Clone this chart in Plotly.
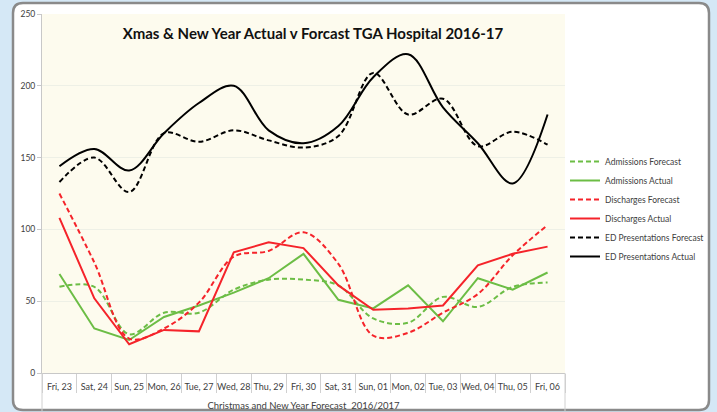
import plotly.graph_objects as go

categories = ["Fri, 23", "Sat, 24", "Sun, 25", "Mon, 26", "Tue, 27", "Wed, 28", "Thu, 29",
              "Fri, 30", "Sat, 31", "Sun, 01", "Mon, 02", "Tue, 03", "Wed, 04", "Thu, 05", "Fri, 06"]

admissions_forecast = [60, 60, 27, 42, 42, 58, 65, 65, 61, 38, 35, 53, 46, 60, 63]
admissions_actual = [69, 31, 23, 39, 47, 56, 66, 83, 51, 45, 61, 36, 66, 58, 70]
discharges_forecast = [125, 77, 24, 31, 49, 81, 85, 98, 76, 26, 28, 42, 55, 82, 103]
discharges_actual = [108, 52, 20, 30, 29, 84, 91, 87, 61, 44, 45, 47, 75, 83, 88]
ed_forecast = [133, 150, 126, 167, 161, 169, 162, 157, 165, 209, 180, 191, 158, 168, 159]
ed_actual = [144, 156, 141, 167, 188, 200, 169, 160, 172, 206, 222, 185, 160, 132, 180]

y_ticks = [0, 50, 100, 150, 200, 250]

GREEN = "#6cbd45"
RED = "#f5232a"
BLACK = "#000000"
FONT = "Lato, sans-serif"

series = [
    ("Admissions Forecast", admissions_forecast, GREEN, "5px,3px", "spline"),
    ("Admissions Actual", admissions_actual, GREEN, "solid", "linear"),
    ("Discharges Forecast", discharges_forecast, RED, "5px,3px", "spline"),
    ("Discharges Actual", discharges_actual, RED, "solid", "linear"),
    ("ED Presentations Forecast", ed_forecast, BLACK, "5px,3px", "spline"),
    ("ED Presentations Actual", ed_actual, BLACK, "solid", "spline"),
]

fig = go.Figure()
for name, vals, color, dash, shape in series:
    line = dict(color=color, width=2, dash=dash, shape=shape)
    if shape == "spline":
        line["smoothing"] = 1.0
    fig.add_trace(go.Scatter(x=categories, y=vals, name=name, mode="lines", line=line))

W, H = 717, 412
L, R, T, B = 42, 152, 14, 39
pw, ph = W - L - R, H - T - B


def px(xp):
    return (xp - L) / pw


def py(yp):
    return (H - B - yp) / ph


# rounded card
x0, x1, y0, y1, r = px(13), px(709), py(3), py(410), 10
rx, ry = r / pw, r / ph
card_path = (f"M {x0+rx},{y0} L {x1-rx},{y0} Q {x1},{y0} {x1},{y0-ry} "
             f"L {x1},{y1+ry} Q {x1},{y1} {x1-rx},{y1} L {x0+rx},{y1} "
             f"Q {x0},{y1} {x0},{y1+ry} L {x0},{y0-ry} Q {x0},{y0} {x0+rx},{y0} Z")

shapes = [
    dict(type="path", path=card_path, xref="paper", yref="paper",
         fillcolor="#ffffff", line=dict(color="#8a8a8a", width=2.5), layer="below"),
    dict(type="rect", xref="x domain", yref="y domain", x0=0, x1=1, y0=0, y1=1,
         fillcolor="#fdfbee", line=dict(width=0), layer="below"),
    dict(type="line", xref="paper", yref="paper", x0=0, x1=0, y0=0, y1=py(411),
         line=dict(color="#d0d0d0", width=1)),
    dict(type="line", xref="paper", yref="paper", x0=1, x1=1, y0=0, y1=py(411),
         line=dict(color="#d0d0d0", width=1)),
]

fig.update_layout(
    width=W, height=H,
    margin=dict(l=L, r=R, t=T, b=B, autoexpand=False),
    paper_bgcolor="#d5e8f6",
    plot_bgcolor="rgba(0,0,0,0)",
    shapes=shapes,
    showlegend=True,
    legend=dict(x=px(565), y=py(147), xanchor="left", yanchor="top",
                font=dict(family=FONT, size=8.5, color="#404040"),
                bgcolor="rgba(0,0,0,0)", tracegroupgap=0, itemwidth=30),
    title=dict(text="<b>Xmas & New Year Actual v Forcast TGA Hospital 2016-17</b>",
               xref="container", x=313 / W, xanchor="center", y=1 - 34 / H, yanchor="middle",
               font=dict(family=FONT, size=15, color="#111111")),
    xaxis=dict(
        title=dict(text="Christmas and New Year Forecast  2016/2017", standoff=11,
                   font=dict(family=FONT, size=9.5, color="#404040")),
        tickfont=dict(family=FONT, size=9, color="#404040"),
        tickangle=0, automargin=False, ticklabelstandoff=5,
        showline=True, linecolor="#c8c8c8", linewidth=1,
        ticks="outside", tickson="boundaries", ticklen=19, tickcolor="#d0d0d0",
        showgrid=False, range=[-0.5, 14.5], fixedrange=True,
    ),
    yaxis=dict(
        range=[0, 250], tickvals=y_ticks, ticktext=[str(v) for v in y_ticks],
        tickfont=dict(family=FONT, size=8.5, color="#404040"), automargin=False,
        showline=True, linecolor="#c8c8c8", linewidth=1,
        ticks="outside", ticklen=4, tickcolor="#c8c8c8",
        showgrid=True, gridcolor="#eef0e6", gridwidth=1, zeroline=False,
    ),
)

fig.write_html("out.html", config={"displayModeBar": False},
               post_script="document.body.style.margin='0';")
